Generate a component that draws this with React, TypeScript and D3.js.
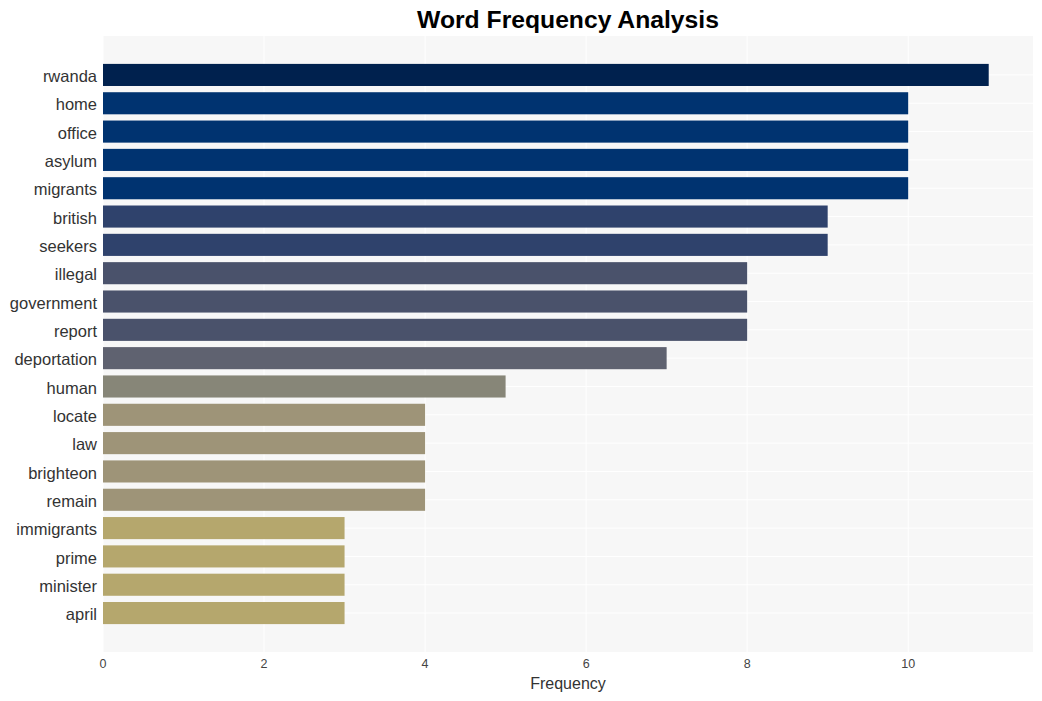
import React from "react";
import * as d3 from "d3";

const words = [
  "rwanda", "home", "office", "asylum", "migrants", "british", "seekers",
  "illegal", "government", "report", "deportation", "human", "locate", "law",
  "brighteon", "remain", "immigrants", "prime", "minister", "april",
];
const counts = [11, 10, 10, 10, 10, 9, 9, 8, 8, 8, 7, 5, 4, 4, 4, 4, 3, 3, 3, 3];
const xTicks = [0, 2, 4, 6, 8, 10];

const colorByCount: Record<number, string> = {
  11: "#00214e",
  10: "#003370",
  9: "#2f426c",
  8: "#4a526b",
  7: "#5f6270",
  5: "#878678",
  4: "#9e9478",
  3: "#b5a76d",
};

const W = 1042;
const H = 701;
const left = 103;
const right = 1033;
const top = 36;
const bottom = 652;

export default function App() {
  const maxV = d3.max(counts) as number;
  const x = d3.scaleLinear().domain([0, maxV * 1.05]).range([left, right]);
  const y = d3
    .scaleBand<string>()
    .domain(words)
    .range([top, bottom])
    .paddingInner(0.22)
    .paddingOuter(0.985);
  const bw = y.bandwidth();
  const font = "'Liberation Sans', Arial, Helvetica, sans-serif";

  return (
    <svg
      width={W}
      height={H}
      style={{ position: "absolute", left: 0, top: 0, fontFamily: font }}
    >
      <rect x={0} y={0} width={W} height={H} fill="#ffffff" />
      <rect x={left} y={top} width={right - left} height={bottom - top} fill="#f7f7f7" />
      {xTicks.map((t) => (
        <line key={"vx" + t} x1={x(t)} x2={x(t)} y1={top} y2={bottom} stroke="#ffffff" strokeWidth={1} />
      ))}
      {words.map((w) => {
        const cy = (y(w) as number) + bw / 2;
        return <line key={"hy" + w} x1={left} x2={right} y1={cy} y2={cy} stroke="#ffffff" strokeWidth={1} />;
      })}
      {words.map((w, i) => (
        <rect
          key={"b" + w}
          x={x(0)}
          y={y(w) as number}
          width={x(counts[i]) - x(0)}
          height={bw}
          fill={colorByCount[counts[i]]}
        />
      ))}
      {words.map((w) => (
        <text
          key={"l" + w}
          x={97}
          y={(y(w) as number) + bw / 2}
          dy="0.43em"
          textAnchor="end"
          fontSize={16.5}
          fill="#333333"
        >
          {w}
        </text>
      ))}
      {xTicks.map((t) => (
        <text key={"t" + t} x={x(t)} y={668} textAnchor="middle" fontSize={12.5} fill="#444444">
          {t}
        </text>
      ))}
      <text x={(left + right) / 2} y={689} textAnchor="middle" fontSize={16} fill="#333333">
        Frequency
      </text>
      <text
        x={(left + right) / 2}
        y={28}
        textAnchor="middle"
        fontSize={24.7}
        fontWeight="bold"
        fill="#000000"
      >
        Word Frequency Analysis
      </text>
    </svg>
  );
}
